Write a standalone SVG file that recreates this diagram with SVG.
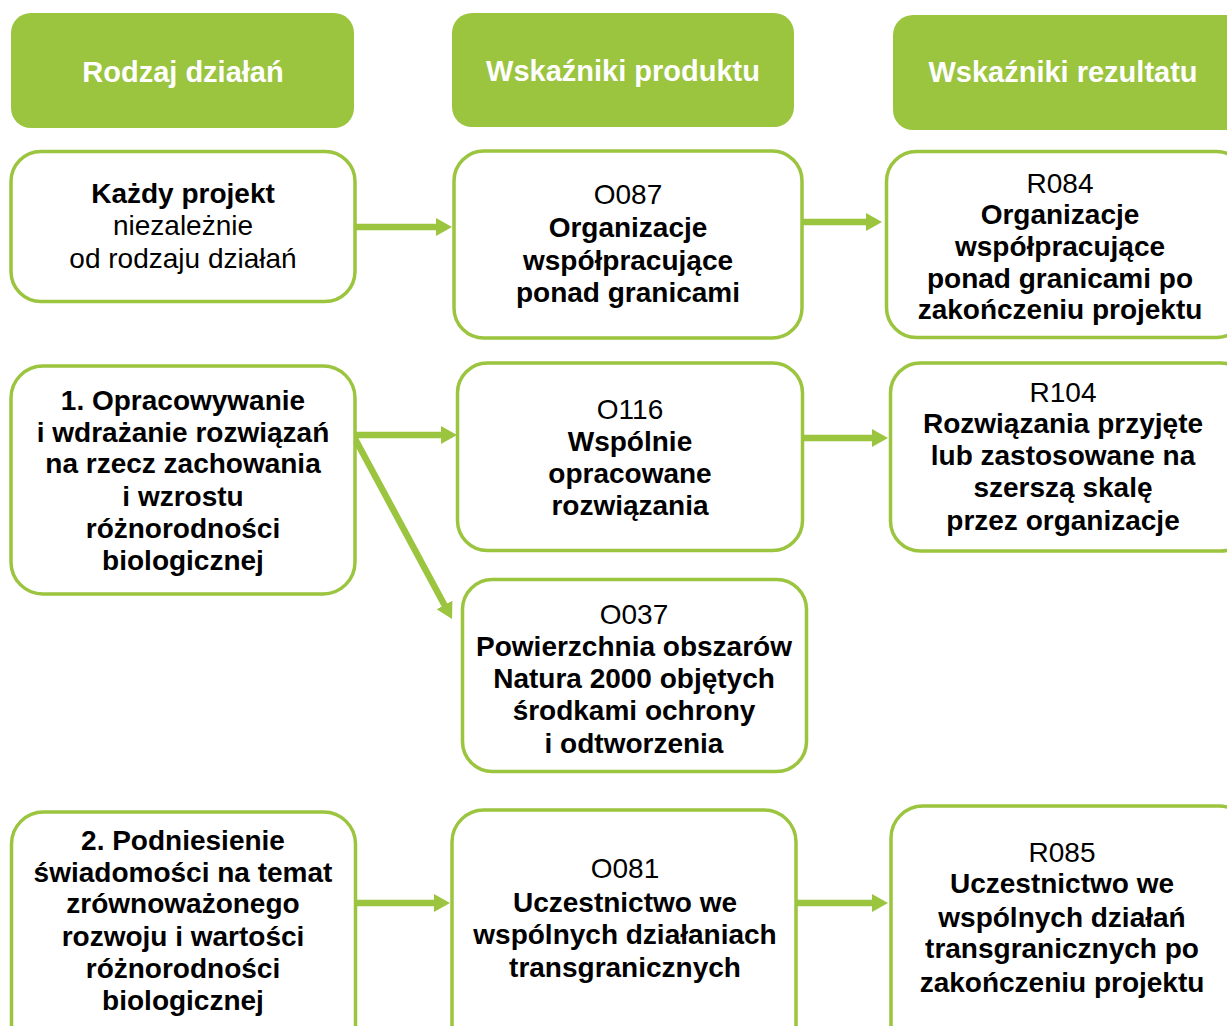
<svg xmlns="http://www.w3.org/2000/svg" width="1227" height="1026" viewBox="0 0 1227 1026">
  <style>
    .hdr { fill: #9BC43F; }
    .box { fill: #FFFFFF; stroke: #9BC43F; stroke-width: 3.5; }
    .ht { font-family: "Liberation Sans", Arial, sans-serif; font-size: 29px; font-weight: bold; fill: #FFFFFF; text-anchor: middle; }
    .t { font-family: "Liberation Sans", Arial, sans-serif; font-size: 28px; fill: #000000; text-anchor: middle; }
    .b { font-weight: bold; }
    .conn { stroke: #9BC43F; stroke-width: 6.5; fill: none; marker-end: url(#head); }
  </style>
  <defs>
    <marker id="head" markerUnits="userSpaceOnUse" viewBox="0 0 16 18" markerWidth="16" markerHeight="18" refX="2" refY="9" orient="auto">
      <path d="M0,0 L16,9 L0,18 Z" fill="#9BC43F"/>
    </marker>
  </defs>
  <rect width="1227" height="1026" fill="#FFFFFF"/>

  <!-- column headers -->
  <g id="hdr-rodzaj">
    <rect class="hdr" x="11" y="13" width="343" height="115" rx="20"/>
    <text class="ht" x="183" y="82">Rodzaj działań</text>
  </g>
  <g id="hdr-produkt">
    <rect class="hdr" x="452" y="13" width="342" height="114" rx="20"/>
    <text class="ht" x="623" y="81">Wskaźniki produktu</text>
  </g>
  <g id="hdr-rezultat">
    <rect class="hdr" x="893" y="15" width="360" height="115" rx="20"/>
    <text class="ht" x="1063" y="82">Wskaźniki rezultatu</text>
  </g>

  <!-- connectors -->
  <g id="connectors">
    <line class="conn" x1="356" y1="227" x2="438" y2="227"/>
    <line class="conn" x1="803" y1="222" x2="868" y2="222"/>
    <line class="conn" x1="353" y1="435" x2="443" y2="435"/>
    <line class="conn" x1="353" y1="435" x2="445.4" y2="606.7"/>
    <line class="conn" x1="803" y1="438" x2="874" y2="438"/>
    <line class="conn" x1="357" y1="903" x2="436" y2="903"/>
    <line class="conn" x1="797" y1="903" x2="874" y2="903"/>
  </g>

  <!-- row 1 -->
  <g id="n-kazdy">
    <rect class="box" x="11" y="151.5" width="344" height="150" rx="30"/>
    <text class="t b" x="183" y="203">Każdy projekt</text>
    <text class="t" x="183" y="235">niezależnie</text>
    <text class="t" x="183" y="268">od rodzaju działań</text>
  </g>
  <g id="n-o087">
    <rect class="box" x="454" y="151" width="348" height="187" rx="30"/>
    <text class="t" x="628" y="204">O087</text>
    <text class="t b" x="628" y="237">Organizacje</text>
    <text class="t b" x="628" y="270">współpracujące</text>
    <text class="t b" x="628" y="302">ponad granicami</text>
  </g>
  <g id="n-r084">
    <rect class="box" x="886.5" y="151.5" width="360" height="186" rx="30"/>
    <text class="t" x="1060" y="193">R084</text>
    <text class="t b" x="1060" y="224">Organizacje</text>
    <text class="t b" x="1060" y="256">współpracujące</text>
    <text class="t b" x="1060" y="288">ponad granicami po</text>
    <text class="t b" x="1060" y="319">zakończeniu projektu</text>
  </g>

  <!-- row 2 -->
  <g id="n-dzialanie1">
    <rect class="box" x="11" y="366" width="344" height="228" rx="32"/>
    <text class="t b" x="183" y="410">1. Opracowywanie</text>
    <text class="t b" x="183" y="442">i wdrażanie rozwiązań</text>
    <text class="t b" x="183" y="473">na rzecz zachowania</text>
    <text class="t b" x="183" y="506">i wzrostu</text>
    <text class="t b" x="183" y="538">różnorodności</text>
    <text class="t b" x="183" y="570">biologicznej</text>
  </g>
  <g id="n-o116">
    <rect class="box" x="457.5" y="363" width="345" height="187.5" rx="30"/>
    <text class="t" x="630" y="419">O116</text>
    <text class="t b" x="630" y="451">Wspólnie</text>
    <text class="t b" x="630" y="483">opracowane</text>
    <text class="t b" x="630" y="515">rozwiązania</text>
  </g>
  <g id="n-r104">
    <rect class="box" x="890.5" y="363" width="360" height="188" rx="30"/>
    <text class="t" x="1063" y="402">R104</text>
    <text class="t b" x="1063" y="433">Rozwiązania przyjęte</text>
    <text class="t b" x="1063" y="465">lub zastosowane na</text>
    <text class="t b" x="1063" y="497">szerszą skalę</text>
    <text class="t b" x="1063" y="530">przez organizacje</text>
  </g>
  <g id="n-o037">
    <rect class="box" x="462.5" y="579.5" width="344" height="192" rx="30"/>
    <text class="t" x="634" y="624">O037</text>
    <text class="t b" x="634" y="656">Powierzchnia obszarów</text>
    <text class="t b" x="634" y="688">Natura 2000 objętych</text>
    <text class="t b" x="634" y="720">środkami ochrony</text>
    <text class="t b" x="634" y="753">i odtworzenia</text>
  </g>

  <!-- row 3 -->
  <g id="n-dzialanie2">
    <rect class="box" x="11.5" y="812" width="344" height="260" rx="32"/>
    <text class="t b" x="183" y="850">2. Podniesienie</text>
    <text class="t b" x="183" y="882">świadomości na temat</text>
    <text class="t b" x="183" y="913">zrównoważonego</text>
    <text class="t b" x="183" y="946">rozwoju i wartości</text>
    <text class="t b" x="183" y="978">różnorodności</text>
    <text class="t b" x="183" y="1010">biologicznej</text>
  </g>
  <g id="n-o081">
    <rect class="box" x="452" y="810" width="344" height="260" rx="32"/>
    <text class="t" x="625" y="878">O081</text>
    <text class="t b" x="625" y="912">Uczestnictwo we</text>
    <text class="t b" x="625" y="944">wspólnych działaniach</text>
    <text class="t b" x="625" y="977">transgranicznych</text>
  </g>
  <g id="n-r085">
    <rect class="box" x="891" y="806" width="360" height="260" rx="32"/>
    <text class="t" x="1062" y="862">R085</text>
    <text class="t b" x="1062" y="893">Uczestnictwo we</text>
    <text class="t b" x="1062" y="927">wspólnych działań</text>
    <text class="t b" x="1062" y="958">transgranicznych po</text>
    <text class="t b" x="1062" y="992">zakończeniu projektu</text>
  </g>
</svg>
